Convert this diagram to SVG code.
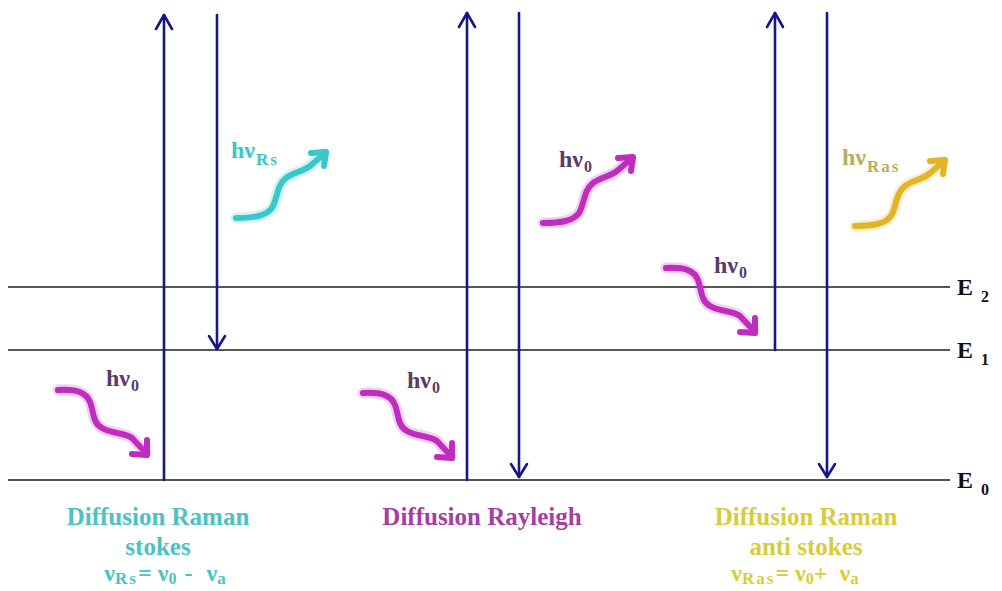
<svg xmlns="http://www.w3.org/2000/svg" xmlns:xlink="http://www.w3.org/1999/xlink" width="1002" height="591" viewBox="0 0 1002 591">
<style>
.lvl{stroke:#1e1e1e;stroke-width:1.3;fill:none}
.va{stroke:#16168a;stroke-width:2.6;fill:none;stroke-linecap:round;stroke-linejoin:round}
.w{fill:none;stroke-width:6;stroke-linecap:round;stroke-linejoin:round}
.mag{stroke:#c02cbd}
.cya{stroke:#38c8cc}
.gld{stroke:#e2b526}
.t{font-family:"Liberation Serif","Times New Roman",serif;font-weight:bold}
.hv{font-size:24px;fill:#5e3a66}
.sub{font-size:16px}
.sub2{font-size:17px;letter-spacing:2px}
.el{font-size:24px;fill:#111}
.bt{font-size:25px;text-anchor:middle}
.fm{font-size:24px;text-anchor:middle}
</style>
<defs>
<g id="wdn">
<path d="M0,0 C18,-1 28,2 32,12 C36,22 34,32 44,38 C54,44 66,42 74,48 L88,63" stroke-width="11" opacity="0.22"/>
<path d="M0,0 C18,-1 28,2 32,12 C36,22 34,32 44,38 C54,44 66,42 74,48 L88,63"/>
<path d="M74,64 L89,65 L89,50"/>
</g>
<g id="wup">
<path d="M0,0 C18,0 30,-2 36,-10 C42,-20 40,-32 50,-40 C58,-46 66,-46 74,-52 L88,-64" stroke-width="11" opacity="0.22"/>
<path d="M0,0 C18,0 30,-2 36,-10 C42,-20 40,-32 50,-40 C58,-46 66,-46 74,-52 L88,-64"/>
<path d="M75,-65 L90,-66 L88,-52"/>
</g>
</defs>
<rect width="1002" height="591" fill="#ffffff"/>
<g id="levels">
<line class="lvl" x1="8" y1="287" x2="950" y2="287"/>
<line class="lvl" x1="8" y1="350" x2="950" y2="350"/>
<line class="lvl" x1="8" y1="480" x2="950" y2="480"/>
<text class="t el" x="957" y="295">E<tspan class="sub" dx="8" dy="7">2</tspan></text>
<text class="t el" x="957" y="358">E<tspan class="sub" dx="8" dy="7">1</tspan></text>
<text class="t el" x="957" y="488">E<tspan class="sub" dx="8" dy="7">0</tspan></text>
</g>
<g id="connectors">
<line class="va" x1="164" y1="480" x2="164" y2="15"/>
<path class="va" d="M156,29 L164,15 L172,29"/>
<line class="va" x1="217" y1="15" x2="217" y2="349"/>
<path class="va" d="M209,336 L217,349 L225,336"/>
<line class="va" x1="467" y1="480" x2="467" y2="13"/>
<path class="va" d="M459,27 L467,13 L475,27"/>
<line class="va" x1="519" y1="13" x2="519" y2="477"/>
<path class="va" d="M511,464 L519,477 L527,464"/>
<line class="va" x1="775" y1="350" x2="775" y2="13"/>
<path class="va" d="M767,27 L775,13 L783,27"/>
<line class="va" x1="827" y1="13" x2="827" y2="477"/>
<path class="va" d="M819,464 L827,477 L835,464"/>
</g>
<g id="photon-stokes-in">
<use xlink:href="#wdn" class="w mag" x="58" y="390"/>
<text class="t hv" x="106" y="386">hν<tspan class="sub" dx="1" dy="5">0</tspan></text>
</g>
<g id="photon-stokes-out">
<use xlink:href="#wup" class="w cya" x="236" y="218"/>
<text class="t hv" x="231" y="158" style="fill:#3cc6c8">hν<tspan class="sub2" dx="1" dy="7">Rs</tspan></text>
</g>
<g id="photon-rayleigh-in">
<use xlink:href="#wdn" class="w mag" x="363" y="393"/>
<text class="t hv" x="407" y="388">hν<tspan class="sub" dx="1" dy="5">0</tspan></text>
</g>
<g id="photon-rayleigh-out">
<use xlink:href="#wup" class="w mag" x="543" y="223"/>
<text class="t hv" x="559" y="167">hν<tspan class="sub" dx="1" dy="5">0</tspan></text>
</g>
<g id="photon-antistokes-in">
<use xlink:href="#wdn" class="w mag" x="666" y="268"/>
<text class="t hv" x="714" y="273">hν<tspan class="sub" dx="1" dy="5">0</tspan></text>
</g>
<g id="photon-antistokes-out">
<use xlink:href="#wup" class="w gld" x="855" y="226"/>
<text class="t hv" x="842" y="165" style="fill:#b8ae5a">hν<tspan class="sub2" dx="1" dy="7">Ras</tspan></text>
</g>
<g id="label-stokes" class="t" style="fill:#4cc2c4">
<text class="bt" x="158" y="525">Diffusion Raman</text>
<text class="bt" x="158" y="555">stokes</text>
<text class="fm" x="166" y="581">ν<tspan class="sub2" dy="3">Rs</tspan><tspan dy="-3">= ν</tspan><tspan class="sub" dy="3">0</tspan><tspan dx="8" dy="-3">-</tspan><tspan dx="14">ν</tspan><tspan class="sub2" dy="3">a</tspan></text>
</g>
<g id="label-rayleigh" class="t" style="fill:#a43ea6">
<text class="bt" x="482" y="525">Diffusion Rayleigh</text>
</g>
<g id="label-antistokes" class="t" style="fill:#d6cc3c">
<text class="bt" x="806" y="525">Diffusion Raman</text>
<text class="bt" x="806" y="555">anti stokes</text>
<text class="fm" x="796" y="581">ν<tspan class="sub2" dy="3">Ras</tspan><tspan dy="-3">= ν</tspan><tspan class="sub" dy="3">0</tspan><tspan dy="-3">+</tspan><tspan dx="12">ν</tspan><tspan class="sub2" dy="3">a</tspan></text>
</g>
</svg>
